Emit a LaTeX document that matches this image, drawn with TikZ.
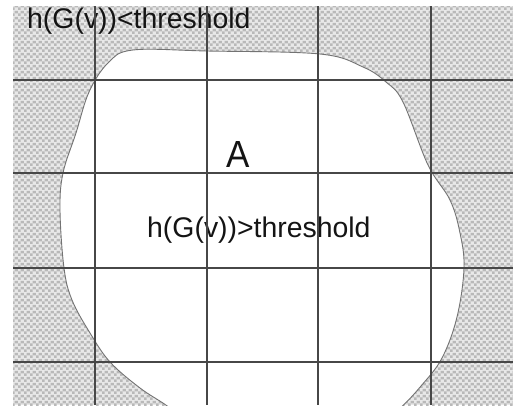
\documentclass[tikz,border=0pt]{standalone}
\usepackage{fontspec}
\setmainfont{Liberation Sans}
\usetikzlibrary{patterns.meta}
\tikzdeclarepattern{
  name=chk,
  type=colored,
  bottom left={(0pt,0pt)},
  top right={(6pt,6pt)},
  tile size={(6pt,6pt)},
  code={
    \fill[gray!55] (0pt,0pt) rectangle (3pt,3pt);
    \fill[gray!55] (3pt,3pt) rectangle (6pt,6pt);
  }
}
\tikzset{
  gridline/.style={draw=black!72, line width=1.6pt},
  blobline/.style={draw=black!55, line width=0.9pt},
  lab/.style={inner sep=0pt, text=black!92, font=\fontsize{28.4}{30}\selectfont},
  biglab/.style={inner sep=0pt, text=black!92, font=\fontsize{35}{37}\selectfont, yscale=1.08, transform shape},
}
\begin{document}
\begin{tikzpicture}[x=1pt,y=-1pt]
\useasboundingbox (0,0) rectangle (513,405);
% hatched background
\fill[gray!18] (13,6) rectangle (513,405);
\fill[pattern=chk] (13,6) rectangle (513,405);
% region A (white blob), clipped to frame
\begin{scope}
\clip (13,6) rectangle (513,405);
\filldraw[fill=white, blobline] plot[smooth cycle, tension=0.6] coordinates {
 (133,50) (207,51) (320,54) (363,67) (386,82) (403,102) (428,165) (450,200)
 (460,233) (464,268) (457,317) (442,358) (421,386) (398,410) (360,440) (210,440)
 (170,408) (140,388) (110,362) (90,333) (72,300) (64,268) (60,210) (63,173)
 (76,133) (89,92) (108,63)};
\end{scope}
% labels
\node[lab, anchor=base west] (low) at (27,28) {h(G(v))<threshold};
\node[lab, anchor=base west] (high) at (147,237) {h(G(v))>threshold};
\node[biglab, anchor=base] (A) at (238,167) {A};
% grid
\foreach \x in {95,207,318,431} \draw[gridline] (\x,6) -- (\x,405);
\foreach \y in {80,173,268,362} \draw[gridline] (13,\y) -- (513,\y);
\end{tikzpicture}
\end{document}
